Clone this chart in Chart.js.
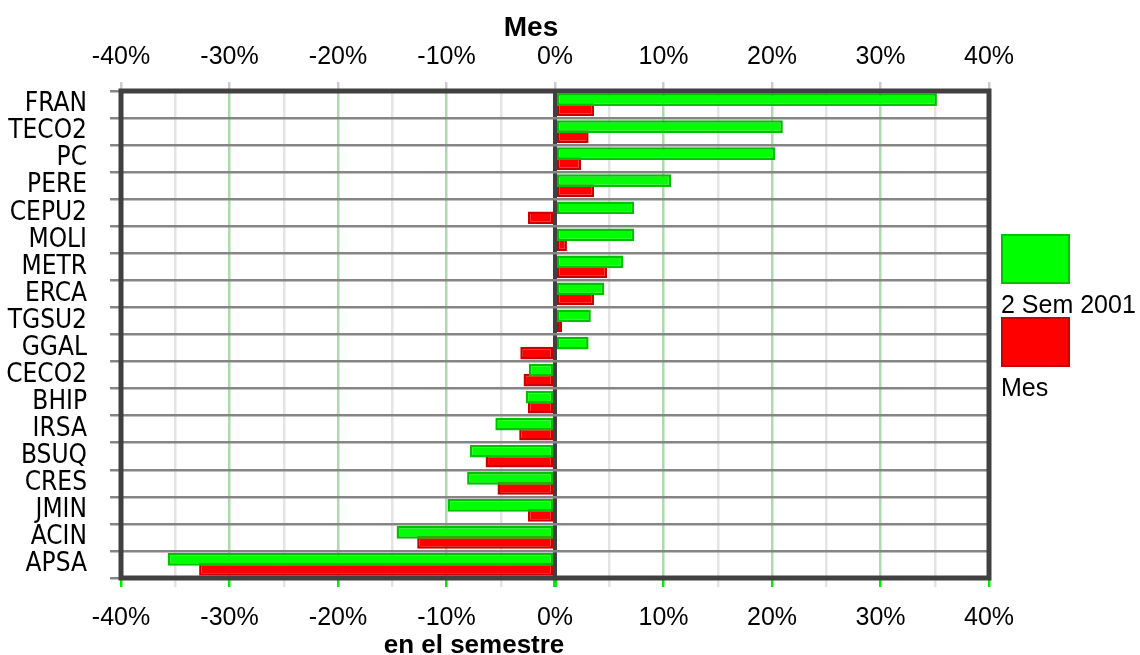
<!DOCTYPE html>
<html>
<head>
<meta charset="utf-8">
<title>Mes / en el semestre</title>
<script src="https://cdn.jsdelivr.net/npm/chart.js@4/dist/chart.umd.min.js"></script>
<style>
	html, body { margin: 0; padding: 0; background: #fff; }
	#chart { display: block; }
</style>
</head>
<body>
<canvas id="chart" width="1140" height="655"></canvas>
<script>
// Values, in percent.
const tickers = ["FRAN", "TECO2", "PC", "PERE", "CEPU2", "MOLI", "METR", "ERCA", "TGSU2",
	"GGAL", "CECO2", "BHIP", "IRSA", "BSUQ", "CRES", "JMIN", "ACIN", "APSA"];
const semestre = [35.2, 21.0, 20.3, 10.7, 7.3, 7.3, 6.3, 4.55, 3.3,
	3.1, -2.4, -2.7, -5.5, -7.85, -8.1, -9.9, -14.6, -35.7];
const mes = [3.6, 3.1, 2.4, 3.6, -2.5, 1.1, 4.8, 3.6, 0.65,
	-3.2, -2.9, -2.5, -3.3, -6.4, -5.3, -2.5, -12.7, -32.8];
const seriesNames = ["2 Sem 2001", "Mes"];
const axisMin = -40, axisMax = 40, axisStep = 5;

const SANS = "'Liberation Sans', Arial, sans-serif";
const NARROW = "'Liberation Sans Narrow', 'Arial Narrow', 'DejaVu Sans Condensed', sans-serif";

const isMajor = v => Math.abs(v % 10) < 1e-9;
const pct = v => isMajor(v) ? v + "%" : "";

// Frame around the plot, axis titles and the boxed legend on the right.
const decorations = {
	id: "decorations",
	afterDraw(chart){
		const ctx = chart.ctx;
		const a = chart.chartArea;
		ctx.save();
		ctx.strokeStyle = "#404040";
		ctx.lineWidth = 5;
		ctx.strokeRect(a.left, a.top, a.right - a.left, a.bottom - a.top);

		ctx.fillStyle = "#000";
		ctx.textAlign = "center";
		ctx.textBaseline = "alphabetic";
		ctx.font = "bold 28px " + SANS;
		ctx.fillText("Mes", a.left + 410, 36);
		ctx.font = "bold 26px " + SANS;
		ctx.fillText("en el semestre", a.left + 353, 653);

		const tops = [235, 318];
		ctx.textAlign = "left";
		ctx.font = "25px " + SANS;
		chart.data.datasets.forEach((ds, i) => {
			const x = a.right + 13, y = tops[i];
			ctx.fillStyle = ds.backgroundColor;
			ctx.fillRect(x, y, 67, 48);
			ctx.strokeStyle = ds.borderColor;
			ctx.lineWidth = 2;
			ctx.strokeRect(x, y, 67, 48);
			ctx.fillStyle = "#000";
			ctx.fillText(ds.label, a.right + 12, y + 78);
		});
		ctx.restore();
	}
};

new Chart(document.getElementById("chart"), {
	type: "bar",
	data: {
		labels: tickers,
		datasets: [
			{
				label: seriesNames[0],
				data: semestre,
				backgroundColor: "#00ff00",
				borderColor: "#00c000",
				borderWidth: 2.5,
				borderSkipped: false,
			},
			{
				label: seriesNames[1],
				data: mes,
				backgroundColor: "#ff0000",
				borderColor: "#c80000",
				borderWidth: 2.5,
				borderSkipped: false,
			},
		],
	},
	options: {
		indexAxis: "y",
		responsive: false,
		animation: false,
		devicePixelRatio: 1,
		categoryPercentage: 0.74,
		barPercentage: 1.27,
		layout: { padding: { left: 0, right: 151, top: 0, bottom: 0 } },
		plugins: {
			legend: { display: false },
			tooltip: { enabled: false },
		},
		scales: {
			x: {
				position: "bottom",
				min: axisMin, max: axisMax,
				afterFit(scale){ scale.height = 77; },
				border: { display: false },
				grid: {
					color: c => c.tick.value === 0 ? "#404040" : (isMajor(c.tick.value) ? "#acdcac" : "#e4e4e4"),
					lineWidth: c => c.tick.value === 0 ? 4 : 2.5,
					tickColor: c => isMajor(c.tick.value) ? "#00ee00" : "#e4e4e4",
					tickLength: 9,
				},
				ticks: {
					stepSize: axisStep,
					autoSkip: false,
					maxRotation: 0,
					padding: 16,
					color: "#000",
					font: { family: SANS, size: 25 },
					callback: pct,
				},
			},
			x2: {
				position: "top",
				min: axisMin, max: axisMax,
				afterFit(scale){ scale.height = 91; },
				border: { display: false },
				grid: {
					drawOnChartArea: false,
					color: "#cccccc",
					lineWidth: 2.5,
					tickColor: c => isMajor(c.tick.value) ? "#cccccc" : "rgba(0,0,0,0)",
					tickLength: 9,
				},
				ticks: {
					stepSize: axisStep,
					autoSkip: false,
					maxRotation: 0,
					padding: 10,
					color: "#000",
					font: { family: SANS, size: 25 },
					callback: pct,
				},
			},
			y: {
				afterFit(scale){ scale.width = 121; },
				border: { display: false },
				grid: {
					color: "#858585",
					lineWidth: 2.5,
					tickLength: 11,
				},
				ticks: {
					autoSkip: false,
					padding: 23,
					color: "#000",
					font: { family: NARROW, size: 26, lineHeight: 1 },
				},
			},
		},
	},
	plugins: [decorations],
});
</script>
</body>
</html>
